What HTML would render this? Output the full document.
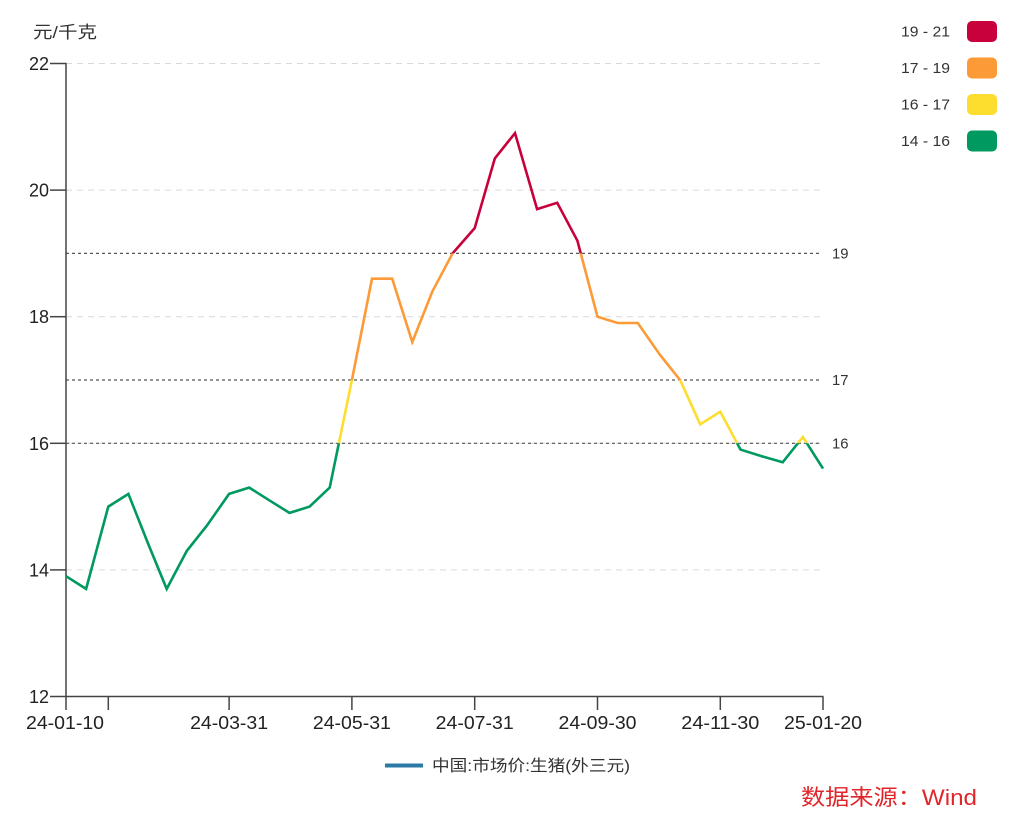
<!DOCTYPE html>
<html>
<head>
<meta charset="utf-8">
<style>
html,body{margin:0;padding:0;background:#fff;}
svg{display:block;}
text{font-family:"Liberation Sans","Noto Sans CJK SC",sans-serif;}
</style>
</head>
<body>
<svg width="1024" height="831" viewBox="0 0 1024 831" xmlns="http://www.w3.org/2000/svg">
<defs>
<clipPath id="cRed"><rect x="0" y="0" width="1024" height="253.4"/></clipPath>
<clipPath id="cOrange"><rect x="0" y="253.4" width="1024" height="126.6"/></clipPath>
<clipPath id="cYellow"><rect x="0" y="380" width="1024" height="63.3"/></clipPath>
<clipPath id="cGreen"><rect x="0" y="443.3" width="1024" height="400"/></clipPath>
</defs>

<!-- title -->
<text x="33" y="38" font-size="17" fill="#333" textLength="64" lengthAdjust="spacingAndGlyphs">元/千克</text>

<!-- grid lines (light dashed) -->
<g stroke="#d9d9d9" stroke-width="1" stroke-dasharray="6,5">
<line x1="66" y1="63.5" x2="823" y2="63.5"/>
<line x1="66" y1="190.1" x2="823" y2="190.1"/>
<line x1="66" y1="316.7" x2="823" y2="316.7"/>
<line x1="66" y1="443.3" x2="823" y2="443.3"/>
<line x1="66" y1="569.9" x2="823" y2="569.9"/>
</g>

<!-- mark lines (dark dotted) -->
<g stroke="#555" stroke-width="1.2" stroke-dasharray="3,3">
<line x1="66" y1="253.4" x2="821" y2="253.4"/>
<line x1="66" y1="380" x2="821" y2="380"/>
<line x1="66" y1="443.3" x2="821" y2="443.3"/>
</g>
<g font-size="15" fill="#333">
<text x="832" y="258.5" textLength="16.5" lengthAdjust="spacingAndGlyphs">19</text>
<text x="832" y="385" textLength="16.5" lengthAdjust="spacingAndGlyphs">17</text>
<text x="832" y="448.3" textLength="16.5" lengthAdjust="spacingAndGlyphs">16</text>
</g>

<!-- axes -->
<g stroke="#444" stroke-width="1.5" fill="none">
<line x1="66" y1="63" x2="66" y2="697"/>
<line x1="65.3" y1="696.5" x2="823.5" y2="696.5"/>
<line x1="50" y1="63.5" x2="66" y2="63.5"/>
<line x1="50" y1="190.1" x2="66" y2="190.1"/>
<line x1="50" y1="316.7" x2="66" y2="316.7"/>
<line x1="50" y1="443.3" x2="66" y2="443.3"/>
<line x1="50" y1="569.9" x2="66" y2="569.9"/>
<line x1="50" y1="696.5" x2="66" y2="696.5"/>
<line x1="66" y1="696.5" x2="66" y2="710"/>
<line x1="108.3" y1="696.5" x2="108.3" y2="710"/>
<line x1="229.1" y1="696.5" x2="229.1" y2="710"/>
<line x1="351.9" y1="696.5" x2="351.9" y2="710"/>
<line x1="474.7" y1="696.5" x2="474.7" y2="710"/>
<line x1="597.5" y1="696.5" x2="597.5" y2="710"/>
<line x1="720.3" y1="696.5" x2="720.3" y2="710"/>
<line x1="823" y1="696.5" x2="823" y2="710"/>
</g>

<!-- y labels -->
<g font-size="18" fill="#222" text-anchor="end">
<text x="49" y="70" textLength="20" lengthAdjust="spacingAndGlyphs">22</text>
<text x="49" y="196.6" textLength="20" lengthAdjust="spacingAndGlyphs">20</text>
<text x="49" y="323.2" textLength="20" lengthAdjust="spacingAndGlyphs">18</text>
<text x="49" y="449.8" textLength="20" lengthAdjust="spacingAndGlyphs">16</text>
<text x="49" y="576.4" textLength="20" lengthAdjust="spacingAndGlyphs">14</text>
<text x="49" y="703" textLength="20" lengthAdjust="spacingAndGlyphs">12</text>
</g>

<!-- x labels -->
<g font-size="18" fill="#222" text-anchor="middle">
<text x="65" y="729" textLength="78" lengthAdjust="spacingAndGlyphs">24-01-10</text>
<text x="229.1" y="729" textLength="78" lengthAdjust="spacingAndGlyphs">24-03-31</text>
<text x="351.9" y="729" textLength="78" lengthAdjust="spacingAndGlyphs">24-05-31</text>
<text x="474.7" y="729" textLength="78" lengthAdjust="spacingAndGlyphs">24-07-31</text>
<text x="597.5" y="729" textLength="78" lengthAdjust="spacingAndGlyphs">24-09-30</text>
<text x="720.3" y="729" textLength="78" lengthAdjust="spacingAndGlyphs">24-11-30</text>
<text x="823" y="729" textLength="78" lengthAdjust="spacingAndGlyphs">25-01-20</text>
</g>

<!-- series -->
<g fill="none" stroke-width="2.6" stroke-linejoin="miter">
<g clip-path="url(#cRed)">
<polyline points="66,576.2 86.1,588.9 108.3,506.6 128.4,493.9 148.5,544.6 166.7,588.9 186.8,550.9 206.9,525.6 229.1,493.9 249.2,487.6 269.3,500.3 289.5,512.9 309.6,506.6 329.7,487.6 351.9,380 372,278.7 392.2,278.7 412.3,342 432.4,291.4 452.6,253.4 474.7,228.1 494.8,158.5 515,133.1 537.1,209.1 557.2,202.8 577.4,240.7 597.5,316.7 617.6,323 637.8,323 659.9,354.7 680.1,380 700.2,424.3 720.3,411.7 740.5,449.6 760.6,455.9 782.7,462.3 802.9,437 823,468.6" stroke="#c8003c"/>
</g>
<g clip-path="url(#cOrange)">
<polyline points="66,576.2 86.1,588.9 108.3,506.6 128.4,493.9 148.5,544.6 166.7,588.9 186.8,550.9 206.9,525.6 229.1,493.9 249.2,487.6 269.3,500.3 289.5,512.9 309.6,506.6 329.7,487.6 351.9,380 372,278.7 392.2,278.7 412.3,342 432.4,291.4 452.6,253.4 474.7,228.1 494.8,158.5 515,133.1 537.1,209.1 557.2,202.8 577.4,240.7 597.5,316.7 617.6,323 637.8,323 659.9,354.7 680.1,380 700.2,424.3 720.3,411.7 740.5,449.6 760.6,455.9 782.7,462.3 802.9,437 823,468.6" stroke="#fc9a37"/>
</g>
<g clip-path="url(#cYellow)">
<polyline points="66,576.2 86.1,588.9 108.3,506.6 128.4,493.9 148.5,544.6 166.7,588.9 186.8,550.9 206.9,525.6 229.1,493.9 249.2,487.6 269.3,500.3 289.5,512.9 309.6,506.6 329.7,487.6 351.9,380 372,278.7 392.2,278.7 412.3,342 432.4,291.4 452.6,253.4 474.7,228.1 494.8,158.5 515,133.1 537.1,209.1 557.2,202.8 577.4,240.7 597.5,316.7 617.6,323 637.8,323 659.9,354.7 680.1,380 700.2,424.3 720.3,411.7 740.5,449.6 760.6,455.9 782.7,462.3 802.9,437 823,468.6" stroke="#fddd2e"/>
</g>
<g clip-path="url(#cGreen)">
<polyline points="66,576.2 86.1,588.9 108.3,506.6 128.4,493.9 148.5,544.6 166.7,588.9 186.8,550.9 206.9,525.6 229.1,493.9 249.2,487.6 269.3,500.3 289.5,512.9 309.6,506.6 329.7,487.6 351.9,380 372,278.7 392.2,278.7 412.3,342 432.4,291.4 452.6,253.4 474.7,228.1 494.8,158.5 515,133.1 537.1,209.1 557.2,202.8 577.4,240.7 597.5,316.7 617.6,323 637.8,323 659.9,354.7 680.1,380 700.2,424.3 720.3,411.7 740.5,449.6 760.6,455.9 782.7,462.3 802.9,437 823,468.6" stroke="#00995f"/>
</g>
</g>

<!-- right legend -->
<g font-size="15" fill="#333">
<text x="901" y="36.5" textLength="49" lengthAdjust="spacingAndGlyphs">19 - 21</text>
<text x="901" y="73" textLength="49" lengthAdjust="spacingAndGlyphs">17 - 19</text>
<text x="901" y="109.5" textLength="49" lengthAdjust="spacingAndGlyphs">16 - 17</text>
<text x="901" y="146" textLength="49" lengthAdjust="spacingAndGlyphs">14 - 16</text>
</g>
<rect x="967" y="21" width="30" height="21" rx="5" fill="#c8003c"/>
<rect x="967" y="57.5" width="30" height="21" rx="5" fill="#fc9a37"/>
<rect x="967" y="94" width="30" height="21" rx="5" fill="#fddd2e"/>
<rect x="967" y="130.5" width="30" height="21" rx="5" fill="#00995f"/>

<!-- bottom legend -->
<line x1="385" y1="765.5" x2="423" y2="765.5" stroke="#2b7aa6" stroke-width="4"/>
<text x="432" y="771" font-size="16" fill="#333" textLength="198" lengthAdjust="spacingAndGlyphs">中国:市场价:生猪(外三元)</text>

<!-- source -->
<text x="801" y="805" font-size="22" fill="#e0262b" textLength="176" lengthAdjust="spacingAndGlyphs">数据来源：Wind</text>
</svg>
</body>
</html>
